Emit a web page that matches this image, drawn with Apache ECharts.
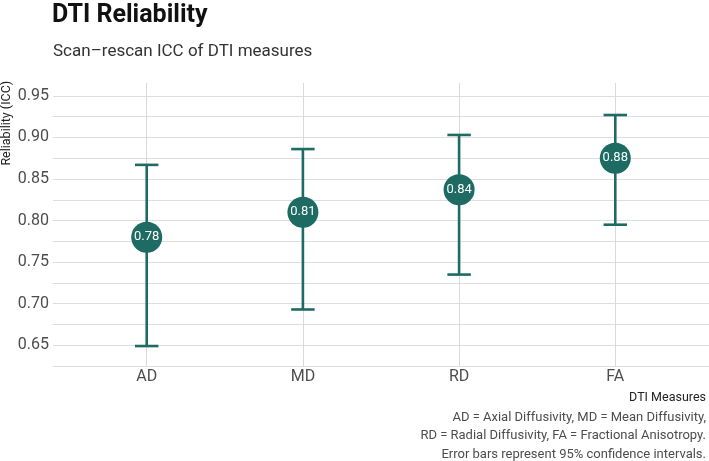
<!DOCTYPE html>
<html>
<head>
<meta charset="utf-8">
<script src="https://cdn.jsdelivr.net/npm/echarts@6/dist/echarts.min.js"></script>
<style>
html,body{margin:0;padding:0;background:#fff;}
#chart{width:709px;height:461px;}
</style>
</head>
<body>
<div id="chart"></div>
<script>
// ---- data ----
var categories = ['AD', 'MD', 'RD', 'FA'];
var icc = [0.780, 0.810, 0.837, 0.875];
var ciLower = [0.649, 0.693, 0.735, 0.795];
var ciUpper = [0.867, 0.886, 0.903, 0.927];
var yMajorTicks = [0.65, 0.70, 0.75, 0.80, 0.85, 0.90, 0.95];
var yGridTicks = [0.625, 0.65, 0.675, 0.70, 0.725, 0.75, 0.775, 0.80, 0.825, 0.85, 0.875, 0.90, 0.925, 0.95];
var xPositions = [1, 2, 3, 4];

var teal = '#1e6b63';
var FONT = 'Roboto';

var pointData = categories.map(function (c, i) { return [xPositions[i], icc[i]]; });
var barData = categories.map(function (c, i) { return [xPositions[i], ciLower[i], ciUpper[i]]; });

var chart = echarts.init(document.getElementById('chart'), null, {renderer: 'canvas'});
var option = {
  backgroundColor: '#ffffff',
  animation: false,
  textStyle: {fontFamily: FONT},
  title: [
    {text: 'DTI Reliability', left: 52, top: 3, padding: 0,
     textStyle: {fontFamily: FONT, fontWeight: 'bold', fontSize: 25, color: '#111111'}},
    {text: 'Scan\u2013rescan ICC of DTI measures', left: 53, top: 43, padding: 0,
     textStyle: {fontFamily: FONT, fontWeight: 'normal', fontSize: 17, color: '#333333'}}
  ],
  grid: {left: 53, right: 0, top: 83, bottom: 95, containLabel: false},
  xAxis: {
    type: 'value', min: 0.4, max: 4.6,
    axisLine: {show: false},
    axisTick: {show: false, customValues: xPositions},
    axisLabel: {customValues: xPositions, fontFamily: FONT, fontSize: 16, color: '#4d4d4d', margin: 3,
      formatter: function (v) { return categories[Math.round(v) - 1] || ''; }},
    splitLine: {show: true, lineStyle: {color: '#d9d9d9', width: 1}}
  },
  yAxis: {
    type: 'value', min: 0.625, max: 0.9655,
    axisLine: {show: false},
    axisTick: {show: false, customValues: yGridTicks},
    axisLabel: {customValues: yMajorTicks, fontFamily: FONT, fontSize: 16, color: '#4d4d4d', margin: 4,
      formatter: function (v) { return v.toFixed(2); }},
    splitLine: {show: true, lineStyle: {color: '#dedede', width: 1}}
  },
  graphic: [
    {type: 'text', x: 7, y: 81, rotation: Math.PI / 2,
     style: {text: 'Reliability (ICC)', font: '12.5px Roboto', fill: '#222222', textAlign: 'right', textVerticalAlign: 'middle'}},
    {type: 'text', x: 706, y: 398,
     style: {text: 'DTI Measures', font: '12.5px Roboto', fill: '#222222', textAlign: 'right', textVerticalAlign: 'middle'}},
    {type: 'text', x: 706, y: 408,
     style: {text: 'AD = Axial Diffusivity, MD = Mean Diffusivity,\nRD = Radial Diffusivity, FA = Fractional Anisotropy.\nError bars represent 95% confidence intervals.',
       font: '13px Roboto', fill: '#4d4d4d', textAlign: 'right', textVerticalAlign: 'top', lineHeight: 18.5}}
  ],
  series: [
    {
      type: 'custom',
      data: barData,
      z: 2,
      renderItem: function (params, api) {
        var x = api.value(0);
        var lo = api.coord([x, api.value(1)]);
        var hi = api.coord([x, api.value(2)]);
        var l = api.coord([x - 0.075, api.value(1)]);
        var r = api.coord([x + 0.075, api.value(1)]);
        var st = {stroke: teal, lineWidth: 2.6, lineCap: 'butt'};
        return {type: 'group', children: [
          {type: 'line', shape: {x1: lo[0], y1: lo[1], x2: hi[0], y2: hi[1]}, style: st},
          {type: 'line', shape: {x1: l[0], y1: lo[1], x2: r[0], y2: lo[1]}, style: st},
          {type: 'line', shape: {x1: l[0], y1: hi[1], x2: r[0], y2: hi[1]}, style: st}
        ]};
      }
    },
    {
      type: 'scatter',
      data: pointData,
      z: 3,
      symbol: 'circle',
      symbolSize: 31,
      itemStyle: {color: teal, opacity: 1},
      label: {show: true, position: 'inside', color: '#ffffff', fontFamily: FONT, fontSize: 13,
        formatter: function (p) { return p.value[1].toFixed(2); }}
    }
  ]
};
chart.setOption(option);
</script>
</body>
</html>
